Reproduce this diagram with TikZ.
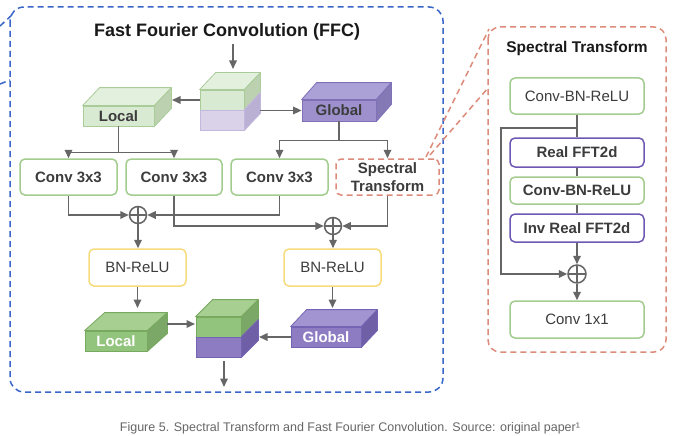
\documentclass[tikz,border=0pt]{standalone}
\usepackage{fontspec}
\setmainfont{Liberation Sans}
\usetikzlibrary{arrows.meta,calc}
\definecolor{lg}{HTML}{666666}
\definecolor{tg}{HTML}{3C3C3C}
\definecolor{bgreen}{HTML}{A3CD8E}
\definecolor{byellow}{HTML}{F7DC7E}
\definecolor{bpurple}{HTML}{6F58B3}
\definecolor{salmon}{HTML}{DD8B7A}
\definecolor{bblue}{HTML}{3A66C9}
% light green cube
\definecolor{lgF}{HTML}{D9EAD3}\definecolor{lgT}{HTML}{E3F0DD}\definecolor{lgS}{HTML}{BBD1B0}\definecolor{lgB}{HTML}{A9CC98}
% light purple
\definecolor{lpF}{HTML}{D9D2E9}\definecolor{lpS}{HTML}{B9B0D4}\definecolor{lpB}{HTML}{C2B8DE}
% global top cube
\definecolor{gpF}{HTML}{9D90CC}\definecolor{gpT}{HTML}{ACA1D7}\definecolor{gpS}{HTML}{8579B5}\definecolor{gpB}{HTML}{7F70B8}
% dark green
\definecolor{dgF}{HTML}{93C47D}\definecolor{dgT}{HTML}{A7CF92}\definecolor{dgS}{HTML}{7BA866}\definecolor{dgB}{HTML}{77A95F}
% dark purple
\definecolor{dpF}{HTML}{8E7CC3}\definecolor{dpT}{HTML}{A194D1}\definecolor{dpS}{HTML}{6E5FA6}\definecolor{dpB}{HTML}{7465B4}
\newcommand{\cubetopface}[5]{% node, dx, dy, fill, border
  \filldraw[fill=#4, draw=#5, line width=0.8pt, line join=round]
    (#1.north west) -- ++(#2,#3) -- ($(#1.north east)+(#2,#3)$) -- (#1.north east) -- cycle;}
\newcommand{\cubesideface}[6]{% upper node, lower node, dx, dy, fill, border
  \filldraw[fill=#5, draw=#6, line width=0.8pt, line join=round]
    (#1.north east) -- ++(#3,#4) -- ($(#2.south east)+(#3,#4)$) -- (#2.south east) -- cycle;}
\tikzset{
  conn/.style={draw=lg, line width=1.6pt},
  arr/.style={conn, -{Triangle[length=8.5pt,width=7.5pt]}},
  box/.style={rectangle, rounded corners=5pt, line width=1.5pt, fill=white, inner sep=0pt, text=tg, align=center},
  gbox/.style={box, draw=bgreen},
  ybox/.style={box, draw=byellow},
  pbox/.style={box, draw=bpurple},
  face/.style={rectangle, inner sep=0pt, line width=0.8pt},
  sumnode/.style={circle, draw=lg, line width=1.5pt, minimum size=17pt, inner sep=0pt,
    path picture={\draw[lg, line width=1.5pt] (path picture bounding box.north) -- (path picture bounding box.south)
      (path picture bounding box.west) -- (path picture bounding box.east);}},
  bfont/.style={font=\fontsize{15}{19}\selectfont\bfseries},
  rfont/.style={font=\fontsize{15}{19}\selectfont},
  bluedash/.style={draw=bblue, line width=1.5pt, dash pattern=on 6pt off 4pt},
  reddash/.style={draw=salmon, line width=1.5pt, dash pattern=on 6pt off 4pt},
}
\begin{document}
\begin{tikzpicture}[x=1pt,y=-1pt]
\useasboundingbox (0,0) rectangle (680,436);
\fill[white] (0,0) rectangle (680,436);

% outer FFC frame
\draw[bluedash, rounded corners=14pt] (10,7) rectangle (443,392);
\coordinate (bz1) at (0,26); \coordinate (bz1e) at (13,14);
\coordinate (bz2) at (0,84); \coordinate (bz2e) at (10,80);
\draw[bluedash] (bz1) -- (bz1e);
\draw[bluedash] (bz2) -- (bz2e);

\node[font=\fontsize{18}{22}\selectfont\bfseries, text=black!90] (title) at (227,32) {Fast Fourier Convolution (FFC)};

% input cube
\node[face, fill=lgF, draw=lgB, minimum width=44pt, minimum height=20pt] (inTop) at (222,100) {};
\node[face, fill=lpF, draw=lpB, minimum width=44pt, minimum height=20pt] (inBot) at (222,120) {};
\cubetopface{inTop}{16}{-17}{lgT}{lgB}
\cubesideface{inTop}{inTop}{16}{-17}{lgS}{lgB}
\cubesideface{inBot}{inBot}{16}{-17}{lpS}{lpB}

% Local cube (top)
\node[face, fill=lgF, draw=lgB, minimum width=71pt, minimum height=20pt, bfont, text=tg] (loc) at (118.5,116) {Local};
\cubetopface{loc}{17}{-18}{lgT}{lgB}
\cubesideface{loc}{loc}{17}{-18}{lgS}{lgB}

% Global cube (top)
\node[face, fill=gpF, draw=gpB, minimum width=74pt, minimum height=21pt, bfont, text=tg] (glob) at (339,110.5) {Global};
\cubetopface{glob}{15}{-17}{gpT}{gpB}
\cubesideface{glob}{glob}{15}{-17}{gpS}{gpB}

\coordinate (inArrS) at (233,44);
\coordinate (inArrE) at (233,69);
\draw[arr] (inArrS) -- (inArrE);
\coordinate (inL) at (200,100); \coordinate (locR) at (172,100);
\draw[arr] (inL) -- (locR);
\coordinate (inR) at (260,110.5);
\draw[arr] (inR) -- (glob.west);

% conv row
\node[gbox, bfont, minimum width=97pt, minimum height=36pt] (c1) at (68.5,177) {Conv 3x3};
\node[gbox, bfont, minimum width=96pt, minimum height=36pt] (c2) at (174,177) {Conv 3x3};
\node[gbox, bfont, minimum width=97pt, minimum height=36pt] (c3) at (279.5,177) {Conv 3x3};
\node[box, reddash, minimum width=103pt, minimum height=36pt, font=\fontsize{15}{18}\selectfont\bfseries] (spec) at (387.5,177) {Spectral\\Transform};

\draw[arr] (loc.south) -- ++(0,26) -| (c1.north);
\draw[arr] (loc.south) -- ++(0,26) -| (c2.north);
\draw[arr] (glob.south) -- ++(0,19) -| (c3.north);
\draw[arr] (glob.south) -- ++(0,19) -| (spec.north);

% sums
\node[sumnode] (s1) at (138,215) {};
\node[sumnode] (s2) at (333,226) {};
\draw[arr] (c1.south) |- (s1.west);
\draw[arr] (c3.south) |- (s1.east);
\draw[arr] (c2.south) |- (s2.west);
\draw[arr] (spec.south) |- (s2.east);

% BN-ReLU
\node[ybox, rfont, minimum width=97pt, minimum height=37pt] (b1) at (137.5,267.5) {BN-ReLU};
\node[ybox, rfont, minimum width=97pt, minimum height=37pt] (b2) at (332.5,267.5) {BN-ReLU};
\draw[arr] (s1.south) -- (s1.south |- b1.north);
\draw[arr] (s2.south) -- (s2.south |- b2.north);

% output local cube
\node[face, fill=dgF, draw=dgB, minimum width=62pt, minimum height=20pt, bfont, text=white] (lout) at (116,341) {Local};
\cubetopface{lout}{20}{-18}{dgT}{dgB}
\cubesideface{lout}{lout}{20}{-18}{dgS}{dgB}

% output global cube
\node[face, fill=dpF, draw=dpB, minimum width=70pt, minimum height=20pt, bfont, text=white] (gout) at (326,337) {Global};
\cubetopface{gout}{16}{-17}{dpT}{dpB}
\cubesideface{gout}{gout}{16}{-17}{dpS}{dpB}

% output cube
\node[face, fill=dgF, draw=dgB, minimum width=45pt, minimum height=20pt] (oTop) at (218.5,327) {};
\node[face, fill=dpF, draw=dpB, minimum width=45pt, minimum height=20pt] (oBot) at (218.5,347) {};
\cubetopface{oTop}{17}{-17}{dgT}{dgB}
\cubesideface{oTop}{oTop}{17}{-17}{dgS}{dgB}
\cubesideface{oBot}{oBot}{17}{-17}{dpS}{dpB}

\coordinate (b1E) at (137.5,308);
\coordinate (b2E) at (332.5,308);
\draw[arr] (b1.south) -- (b1E);
\draw[arr] (b2.south) -- (b2E);
\coordinate (loutR) at (167,324);
\coordinate (oL) at (195,324);
\draw[arr] (loutR) -- (oL);
\coordinate (oR) at (259,337);
\draw[arr] (gout.west) -- (oR);
\coordinate (oS) at (224,361);
\coordinate (oE) at (224,387);
\draw[arr] (oS) -- (oE);

% Spectral transform panel
\draw[reddash, rounded corners=12pt] (488,27) rectangle (666,352);
\coordinate (z1a) at (426,157); \coordinate (z1b) at (489,29);
\coordinate (z2a) at (430,155); \coordinate (z2b) at (488,88);
\draw[reddash] (z1a) -- (z1b);
\draw[reddash] (z2a) -- (z2b);

\node[font=\fontsize{15.5}{19}\selectfont\bfseries, text=black!90] (sttitle) at (577,48) {Spectral Transform};
\node[gbox, rfont, minimum width=134pt, minimum height=36pt] (r1) at (577,96) {Conv-BN-ReLU};
\node[pbox, bfont, minimum width=134pt, minimum height=29pt] (r2) at (577,152.5) {Real FFT2d};
\node[gbox, bfont, minimum width=134pt, minimum height=27pt] (r3) at (577,190.5) {Conv-BN-ReLU};
\node[pbox, bfont, minimum width=134pt, minimum height=28pt] (r4) at (577,228) {Inv Real FFT2d};
\node[sumnode, minimum size=18pt] (rs) at (577,274) {};
\node[gbox, rfont, minimum width=134pt, minimum height=37pt] (r5) at (577,319.5) {Conv 1x1};

\draw[conn] (r1.south) -- (r2.north);
\draw[conn] (r2.south) -- (r3.north);
\draw[conn] (r3.south) -- (r4.north);
\draw[arr] (r4.south) -- (rs.north);
\draw[arr] (rs.south) -- (r5.north);
\coordinate (skipA) at (501,128);
\draw[arr] (r1.south |- skipA) -- (skipA) |- (rs.west);

% caption
\node[font=\fontsize{12.5}{15}\selectfont, text=black!60] (cap) at (350,428) {Figure 5. Spectral Transform and Fast Fourier Convolution. Source: original paper¹};
\end{tikzpicture}
\end{document}
